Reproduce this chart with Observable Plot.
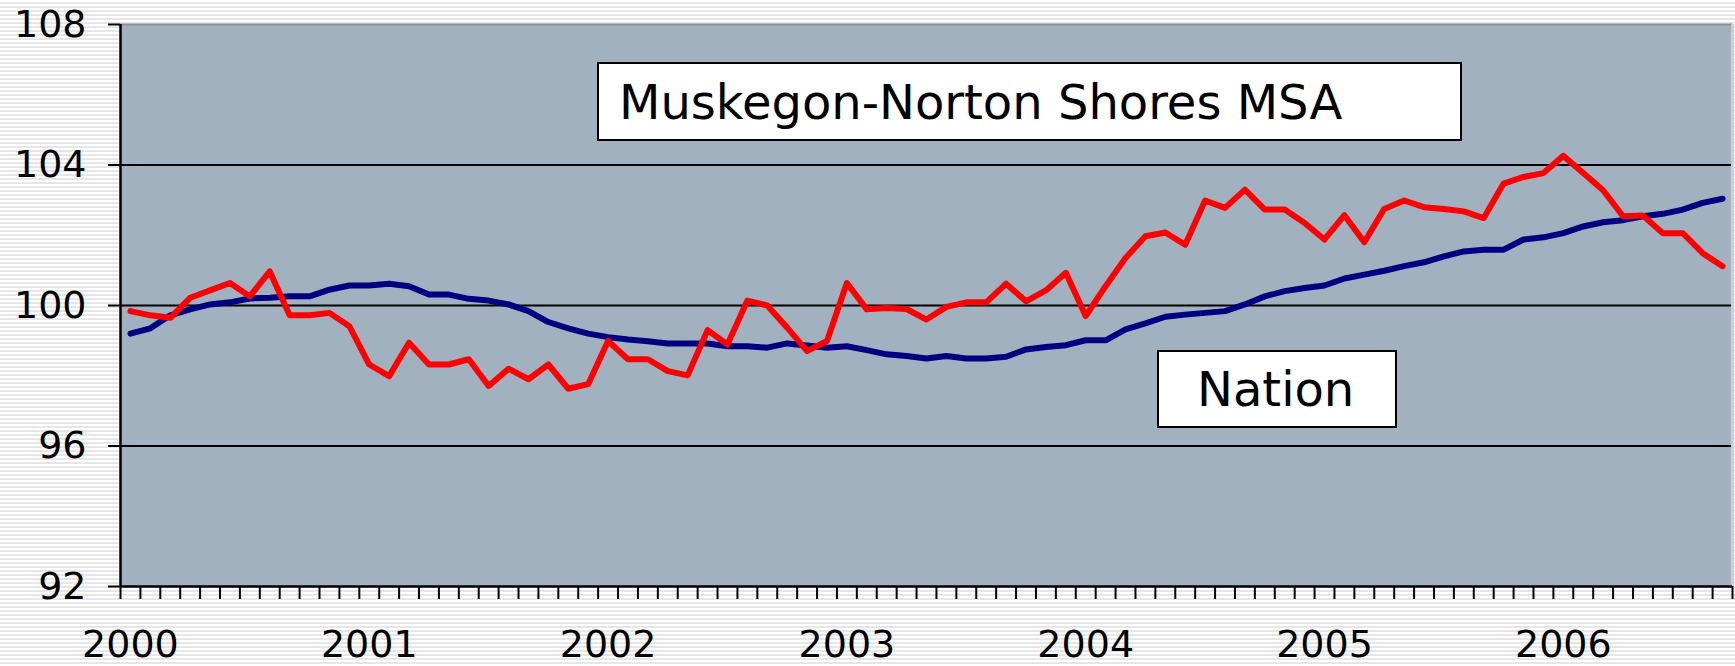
<!DOCTYPE html>
<html>
<head>
<meta charset="utf-8">
<script src="https://cdn.jsdelivr.net/npm/d3@7"></script>
<script src="https://cdn.jsdelivr.net/npm/@observablehq/plot@0.6"></script>
<style>
  html, body { margin: 0; padding: 0; }
  body {
    width: 1735px; height: 666px; overflow: hidden;
    background: repeating-linear-gradient(to bottom, #ffffff 0px, #ffffff 2px, #e6e6e6 2px, #e6e6e6 4px);
    font-family: "DejaVu Sans", Verdana, sans-serif;
  }
  #wrap { position: relative; width: 1735px; height: 666px; }
  .box {
    position: absolute; box-sizing: border-box; background: #ffffff;
    border: 2px solid #000; display: flex; align-items: center;
    font-size: 48px; color: #000; line-height: 1; white-space: nowrap;
  }
</style>
</head>
<body>
<div id="wrap"></div>
<script>
// Years labelled on the category axis (one label every 12 monthly categories)
const years = ["2000", "2001", "2002", "2003", "2004", "2005", "2006"];

// Muskegon-Norton Shores MSA, monthly index, Jan 2000 – Sep 2006
const msa = [
  99.84, 99.72, 99.65, 100.22, 100.43, 100.64, 100.26, 100.97, 99.72, 99.72, 99.79, 99.41,
  98.32, 97.99, 98.94, 98.32, 98.32, 98.47, 97.71, 98.20, 97.90, 98.32, 97.63, 97.76,
  98.99, 98.47, 98.47, 98.13, 98.01, 99.30, 98.89, 100.14, 100.00, 99.37, 98.70, 98.99,
  100.64, 99.89, 99.93, 99.90, 99.60, 99.96, 100.09, 100.09, 100.62, 100.12, 100.43, 100.93,
  99.70, 100.55, 101.35, 101.97, 102.08, 101.73, 102.99, 102.78, 103.30, 102.73, 102.73, 102.35,
  101.88, 102.57, 101.80, 102.75, 102.99, 102.80, 102.75, 102.68, 102.49, 103.47, 103.66, 103.77,
  104.26, 103.77, 103.28, 102.54, 102.56, 102.06, 102.06, 101.49, 101.12
];

// Nation, monthly index, Jan 2000 – Sep 2006
const nation = [
  99.20, 99.35, 99.72, 99.89, 100.03, 100.09, 100.20, 100.22, 100.26, 100.26, 100.45, 100.57,
  100.57, 100.62, 100.55, 100.31, 100.31, 100.19, 100.14, 100.03, 99.84, 99.53, 99.35, 99.20,
  99.10, 99.03, 98.98, 98.92, 98.92, 98.92, 98.84, 98.84, 98.80, 98.92, 98.86, 98.80,
  98.84, 98.73, 98.61, 98.56, 98.49, 98.56, 98.49, 98.49, 98.54, 98.75, 98.82, 98.87,
  99.01, 99.01, 99.32, 99.49, 99.68, 99.74, 99.79, 99.84, 100.03, 100.26, 100.41, 100.50,
  100.57, 100.77, 100.88, 100.99, 101.12, 101.23, 101.40, 101.54, 101.59, 101.59, 101.88, 101.94,
  102.06, 102.25, 102.37, 102.43, 102.54, 102.61, 102.73, 102.92, 103.04
];

const yTicks = [92, 96, 100, 104, 108];
const gridValues = [96, 100, 104];

const msaData = msa.map((v, i) => ({i, v}));
const nationData = nation.map((v, i) => ({i, v}));
const n = msa.length;
const boundaries = d3.range(0, n + 1).map(k => k - 0.5);
const yearPos = years.map((y, k) => k * 12);

const chart = Plot.plot({
  width: 1735,
  height: 666,
  marginLeft: 120,
  marginRight: 3,
  marginTop: 24,
  marginBottom: 80,
  style: {background: "transparent", fontFamily: "\"DejaVu Sans\", Verdana, sans-serif", color: "#000"},
  x: {domain: [-0.5, n - 0.5], axis: null, label: null},
  y: {domain: [92, 108], axis: null, label: null},
  marks: [
    Plot.frame({fill: "#a2b1c0", stroke: null}),
    Plot.ruleY(gridValues, {stroke: "#000", strokeWidth: 2}),
    Plot.ruleY([108], {stroke: "#8f8f8f", strokeWidth: 2}),
    Plot.ruleX([n - 0.5], {stroke: "#cfcfcf", strokeWidth: 3}),
    Plot.line(nationData, {x: "i", y: "v", stroke: "#000080", strokeWidth: 6, strokeLinejoin: "round", strokeLinecap: "round"}),
    Plot.line(msaData, {x: "i", y: "v", stroke: "#ff0000", strokeWidth: 6, strokeLinejoin: "round", strokeLinecap: "round"}),
    Plot.ruleX([-0.5], {stroke: "#000", strokeWidth: 2.5}),
    Plot.ruleY([92], {stroke: "#000", strokeWidth: 2.5}),
    Plot.axisY({ticks: yTicks, label: null, tickSize: 12, tickPadding: 22, fontSize: 38, stroke: "#000", strokeWidth: 2, tickFormat: d => String(d)}),
    Plot.axisX({ticks: boundaries, label: null, tickSize: 13, tickFormat: () => "", stroke: "#000", strokeWidth: 2}),
    Plot.axisX({ticks: yearPos, label: null, tickSize: 0, tickPadding: 44, fontSize: 38, tickFormat: (d) => years[d / 12]})
  ]
});

const wrap = document.getElementById("wrap");
wrap.appendChild(chart);

function addBox(text, left, top, width, height, padLeft) {
  const b = document.createElement("div");
  b.className = "box";
  b.style.left = left + "px";
  b.style.top = top + "px";
  b.style.width = width + "px";
  b.style.height = height + "px";
  b.style.paddingLeft = padLeft + "px";
  b.textContent = text;
  wrap.appendChild(b);
}
addBox("Muskegon-Norton Shores MSA", 597, 62, 865, 79, 20);
addBox("Nation", 1157, 350, 240, 78, 38);
</script>
</body>
</html>
